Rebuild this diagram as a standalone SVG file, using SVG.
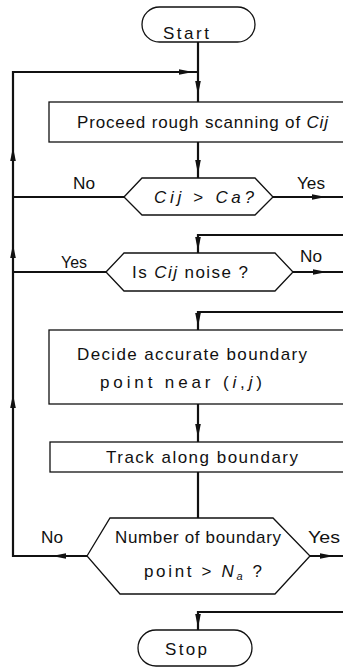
<svg xmlns="http://www.w3.org/2000/svg" xmlns:xlink="http://www.w3.org/1999/xlink" width="343" height="667" viewBox="0 0 343 667">
  <style>
    .bg { fill: #ffffff; }
    .shape { fill: #ffffff; stroke: #111111; stroke-width: 1.3; }
    .line { fill: none; stroke: #111111; stroke-width: 2.2; stroke-linejoin: miter; }
    .head { fill: #111111; }
    .txt { font-family: "Liberation Sans", Arial, sans-serif; font-size: 17px; fill: #111111; }
    .it { font-style: italic; }
  </style>
  <defs>
    <!-- arrowhead pointing along +x, tip at origin -->
    <path id="ah" d="M0,0 L-14,-2.8 L-14,2.8 Z"/>
  </defs>
  <rect class="bg" x="0" y="0" width="343" height="667"/>

  <!-- connectors -->
  <g id="connectors">
    <!-- main spine pieces -->
    <path class="line" d="M198,42 V102"/>
    <path class="line" d="M198,142 V178"/>
    <path class="line" d="M343,235 H198 V253"/>
    <path class="line" d="M343,312 H198 V330"/>
    <path class="line" d="M198,404 V442"/>
    <path class="line" d="M198,472 V518"/>
    <path class="line" d="M343,612 H198 V630"/>
    <!-- left return loop -->
    <path class="line" d="M87,556 H13 V72 H198"/>
    <path class="line" d="M124,197 H13"/>
    <path class="line" d="M106,272 H13"/>
    <!-- exits to the right -->
    <path class="line" d="M273,197 H343"/>
    <path class="line" d="M293,272 H343"/>
    <path class="line" d="M310,556 H343"/>
    <!-- arrowheads -->
    <g class="head">
      <use xlink:href="#ah" transform="translate(193,72)"/>
      <use xlink:href="#ah" transform="translate(198,95) rotate(90)"/>
      <use xlink:href="#ah" transform="translate(13,147) rotate(-90)"/>
      <use xlink:href="#ah" transform="translate(13,244) rotate(-90)"/>
      <use xlink:href="#ah" transform="translate(13,394) rotate(-90)"/>
      <use xlink:href="#ah" transform="translate(198,174) rotate(90)"/>
      <use xlink:href="#ah" transform="translate(326,197)"/>
      <use xlink:href="#ah" transform="translate(198,251) rotate(90)"/>
      <use xlink:href="#ah" transform="translate(327,272)"/>
      <use xlink:href="#ah" transform="translate(198,327) rotate(90)"/>
      <use xlink:href="#ah" transform="translate(198,438) rotate(90)"/>
      <use xlink:href="#ah" transform="translate(52,556) rotate(180)"/>
      <use xlink:href="#ah" transform="translate(334,556)"/>
      <use xlink:href="#ah" transform="translate(198,628) rotate(90)"/>
    </g>
  </g>

  <!-- branch labels -->
  <g id="labels">
    <text class="txt" x="73" y="189" textLength="22" lengthAdjust="spacingAndGlyphs">No</text>
    <text class="txt" x="297" y="189" textLength="28" lengthAdjust="spacingAndGlyphs">Yes</text>
    <text class="txt" x="61" y="268" textLength="26" lengthAdjust="spacingAndGlyphs">Yes</text>
    <text class="txt" x="300" y="262" textLength="22" lengthAdjust="spacingAndGlyphs">No</text>
    <text class="txt" x="41" y="543" textLength="22" lengthAdjust="spacingAndGlyphs">No</text>
    <text class="txt" x="308" y="543" textLength="32" lengthAdjust="spacingAndGlyphs">Yes</text>
  </g>

  <g id="start">
    <rect class="shape" x="142" y="7" width="113" height="35" rx="17.5"/>
    <text class="txt" x="163" y="39" textLength="46" lengthAdjust="spacing">Start</text>
  </g>

  <g id="scan">
    <rect class="shape" x="49" y="102" width="300" height="40"/>
    <text class="txt" x="77" y="128" textLength="251" lengthAdjust="spacing">Proceed rough scanning of <tspan class="it">Cij</tspan></text>
  </g>

  <g id="threshold">
    <polygon class="shape" points="124,197 142,178 255,178 273,197 255,215 142,215"/>
    <text class="txt" x="154" y="203" textLength="100" lengthAdjust="spacing"><tspan class="it">Cij</tspan> &gt; <tspan class="it">Ca?</tspan></text>
  </g>

  <g id="noise">
    <polygon class="shape" points="106,272 124,253 275,253 293,272 275,291 124,291"/>
    <text class="txt" x="132" y="278" textLength="116" lengthAdjust="spacing">Is <tspan class="it">Cij</tspan> noise ?</text>
  </g>

  <g id="decide">
    <rect class="shape" x="49" y="330" width="300" height="74"/>
    <text class="txt" x="77" y="360" textLength="230" lengthAdjust="spacing">Decide accurate boundary</text>
    <text class="txt" x="100" y="388" textLength="162" lengthAdjust="spacing">point near (<tspan class="it">i</tspan>,<tspan class="it">j</tspan>)</text>
  </g>

  <g id="track">
    <rect class="shape" x="50" y="442" width="300" height="30"/>
    <text class="txt" x="106" y="463" textLength="192" lengthAdjust="spacing">Track along boundary</text>
  </g>

  <g id="count">
    <polygon class="shape" points="87,556 110,518 273,518 310,556 275,594 120,594"/>
    <text class="txt" x="115" y="543" textLength="166" lengthAdjust="spacing">Number of boundary</text>
    <text class="txt" x="144" y="577" textLength="118" lengthAdjust="spacing">point &gt; <tspan class="it">N</tspan><tspan class="it" font-size="11" dy="3">a</tspan><tspan dy="-3"> ?</tspan></text>
  </g>

  <g id="stop">
    <rect class="shape" x="138" y="630" width="114" height="36" rx="18"/>
    <text class="txt" x="165" y="655" textLength="42" lengthAdjust="spacing">Stop</text>
  </g>
</svg>
